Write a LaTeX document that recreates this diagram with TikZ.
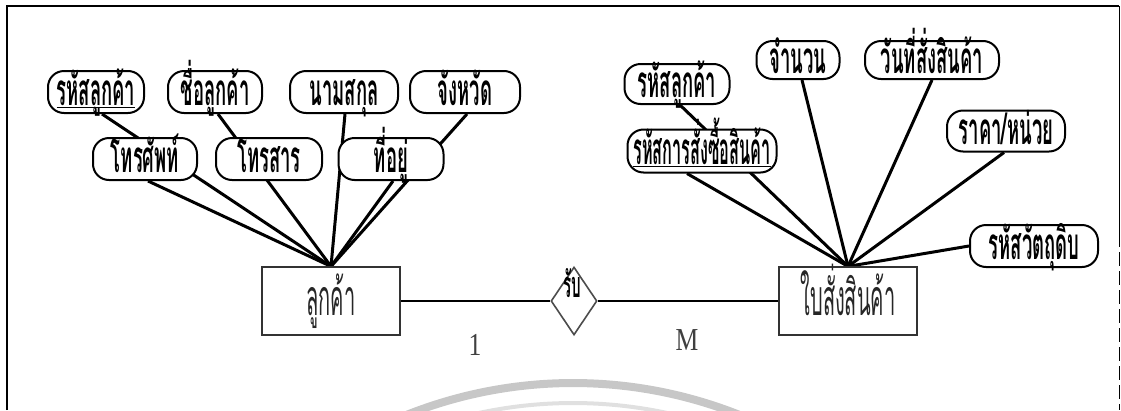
\documentclass[tikz,border=0pt]{standalone}
\usepackage{fontspec}
\setmainfont{Liberation Serif}
\newfontfamily\thaib[Script=Thai,FakeStretch=0.42]{Loma}
\newfontfamily\thain[Script=Thai,FakeStretch=0.37]{Loma}
\newfontfamily\thaie[Script=Thai,FakeStretch=0.40]{Loma}
\newfontfamily\cardfont[FakeStretch=0.8]{Liberation Serif}
\usetikzlibrary{shapes.geometric,backgrounds}
\newcommand\keyline[1]{\setbox0=\hbox{#1}\rlap{\rule[-3pt]{\wd0}{1.5pt}}\box0}
\tikzset{
  attr/.style={draw, line width=2pt, rounded corners=16pt, fill=white,
    minimum height=42pt, inner sep=0pt, text height=30pt, text depth=4pt,
    font=\thaib\bfseries\fontsize{44}{44}\selectfont},
  ent/.style={draw=black!80, line width=1.2pt, fill=white,
    minimum width=138pt, minimum height=68pt, inner sep=0pt,
    text height=32pt, text depth=4pt,
    font=\thaie\fontsize{50}{50}\selectfont, text=black!85},
  relshape/.style={diamond, draw=black!70, line width=1.6pt, fill=white,
    minimum width=46pt, minimum height=68pt, inner sep=0pt},
  conn/.style={line width=3pt},
  relline/.style={line width=1.8pt},
  card/.style={font=\cardfont\fontsize{32}{32}\selectfont, text=black!75,
    inner sep=0pt, anchor=base}
}
\begin{document}
\begin{tikzpicture}[x=1pt,y=-1pt]
\useasboundingbox (0,0) rectangle (1121,410);
% watermark arcs
\begin{scope}
  \clip (0,0) rectangle (1121,410);
  \draw[line width=8pt, black!22] (348,443.3) arc[start angle=240, end angle=300, radius=450];
  \draw[line width=4pt, black!12] (348,463.3) arc[start angle=240, end angle=300, radius=450];
\end{scope}
% frame
\draw[line width=2pt] (7,410) -- (7,6) -- (1119,6);
\draw[line width=1pt] (1119,6) -- (1119,233);
\draw[line width=1pt, dash pattern=on 14pt off 5pt] (1119,233) -- (1119,410);

% left entity and attributes
\node[attr, minimum width=96pt]  (a1) at (96,92)  {\keyline{รหัสลูกค้า}};
\node[attr, minimum width=94pt]  (a2) at (215,92) {ชื่อลูกค้า};
\node[attr, minimum width=108pt] (a3) at (344,92) {นามสกุล};
\node[attr, minimum width=110pt] (a4) at (465,92) {จังหวัด};
\node[attr, minimum width=104pt] (a5) at (145,159) {โทรศัพท์};
\node[attr, minimum width=106pt] (a6) at (269,159) {โทรสาร};
\node[attr, minimum width=105pt] (a7) at (391,159) {ที่อยู่};
\node[ent] (E1) at (331,301) {ลูกค้า};

% relationship
\node[relshape] (R) at (574,301) {};
\node[font=\thaib\bfseries\fontsize{36}{36}\selectfont, inner sep=0pt, anchor=base] (Rt) at (572,297) {รับ};

% right entity and attributes
\node[attr, minimum width=105pt, minimum height=40pt] (b1) at (677,84) {รหัสลูกค้า};
\node[attr, minimum width=149pt, minimum height=43pt, font=\thain\bfseries\fontsize{44}{44}\selectfont] (b2) at (702,151) {\keyline{รหัสการสั่งซื้อสินค้า}};
\node[attr, minimum width=83pt, minimum height=38pt] (b3) at (798,60) {จำนวน};
\node[attr, minimum width=134pt, minimum height=38pt] (b4) at (932,60) {วันที่สั่งสินค้า};
\node[attr, minimum width=118pt, minimum height=41pt] (b5) at (1006,131) {ราคา/หน่วย};
\node[attr, minimum width=128pt] (b6) at (1034,246) {รหัสวัตถุดิบ};
\node[ent] (E2) at (848,301) {ใบสั่งสินค้า};

% cardinalities
\node[card] (c1) at (475,355) {1};
\node[card] (cm) at (687,350) {M};

\begin{scope}[on background layer]
  \draw[conn] ([xshift=6pt]a1.south) -- (E1.north);
  \draw[conn] ([xshift=3pt]a2.south) -- (E1.north);
  \draw[conn] ([xshift=1pt]a3.south) -- (E1.north);
  \draw[conn] ([xshift=2pt]a4.south) -- (E1.north);
  \draw[conn] ([xshift=3pt]a5.south) -- (E1.north);
  \draw[conn] ([xshift=2pt]a7.south) -- (E1.north);
  \draw[conn] ([xshift=3pt]b1.south) -- (E2.north);
  \draw[conn] ([xshift=-15pt]b2.south) -- (E2.north);
  \draw[conn] ([xshift=4pt]b3.south) -- (E2.north);
  \draw[conn] (b4.south) -- (E2.north);
  \draw[conn] ([xshift=-2pt]b5.south) -- (E2.north);
  \draw[conn] (b6.west) -- (E2.north);
  \draw[relline] (E1.east) -- (R.west);
  \draw[relline] (R.east) -- (E2.west);
\end{scope}
\end{tikzpicture}
\end{document}
